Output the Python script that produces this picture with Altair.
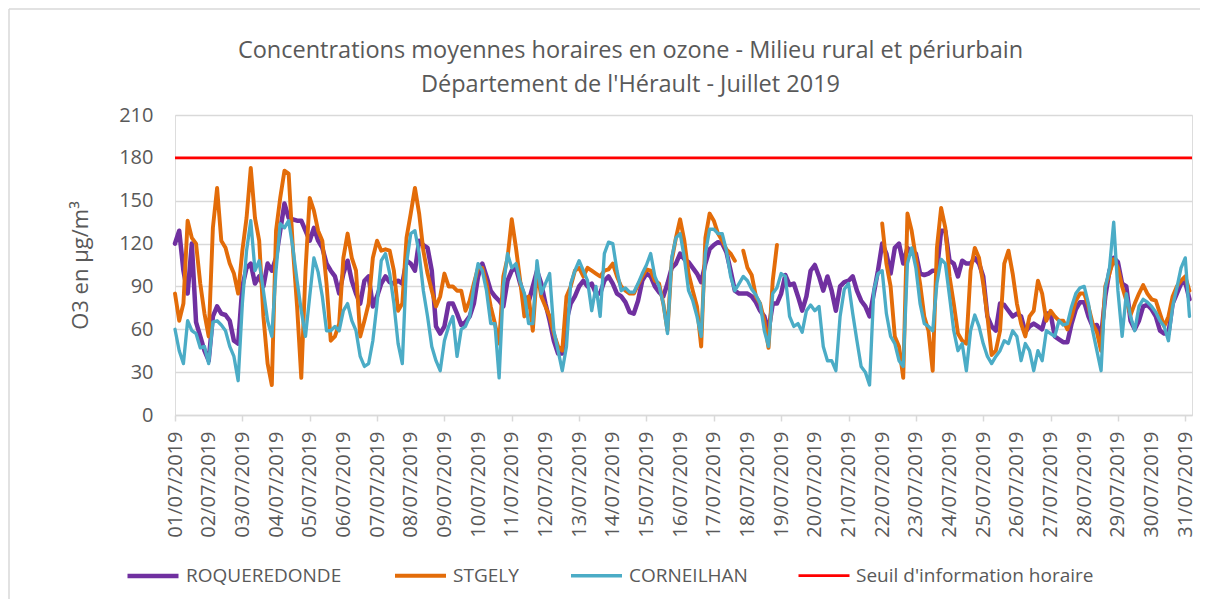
import altair as alt
import pandas as pd

# ---- data (one sample every 3 hours) ----
STEP_HOURS = 3
ROQUEREDONDE = [
    120, 129, 101, 85, 120, 65, 55, 45, 38, 69, 76, 71, 70, 66, 52, 50, 90, 103, 106, 92,
    97, 90, 106, 101, 110, 129, 148, 138, 137, 136, 136, 129, 122, 131, 122,
    117, 106, 101, 97, 85, 99, 108, 94, 85, 78, 94, 97, 76, 83, 92, 97, 93, 92, 94, 92,
    108, 106, 101, 122, 119, 117, 101, 62, 57, 62, 78, 78, 71, 63,
    65, 69, 78, 97, 106, 97, 87, 83, 80, 76, 94, 101, 103, 92, 83, 79, 90, 101, 92, 78,
    66, 52, 43, 43, 66, 78, 83, 90, 94, 90, 92, 85, 85, 94, 97,
    92, 85, 83, 79, 72, 71, 80, 94, 99, 97, 90, 86, 83, 92, 103, 106, 113, 109, 107, 103,
    99, 93, 106, 116, 119, 121, 120, 114, 101, 87, 85, 85, 85, 83,
    79, 73, 69, 59, 78, 78, 85, 98, 91, 92, 83, 73, 83, 101, 105, 97, 87, 97, 87, 73,
    90, 93, 94, 97, 87, 80, 76, 69, 85, 101, 120, 113, 99, 117, 120,
    106, 117, 113, 113, 99, 98, 99, 101, 101, 129, 129, 108, 106, 97, 108, 106, 106, 110, 106, 97,
    69, 62, 59, 78, 77, 73, 69, 71, 69, 58, 62, 64, 62, 60,
    71, 71, 55, 53, 51, 51, 64, 74, 79, 79, 69, 62, 63, 55, 83, 101, 110, 107, 92, 90,
    66, 60, 66, 76, 77, 74, 69, 59, 57, 57, 78, 85, 92, 93, 81,
]
STGELY = [
    85, 66, 78, 136, 124, 120, 92, 71, 55, 131, 159, 122, 117, 106, 99, 85, 115, 138, 173, 138,
    122, 69, 36, 21, 129, 152, 171, 169, 117, 76, 26, 101, 152, 143, 129,
    122, 92, 52, 55, 64, 110, 127, 110, 101, 55, 66, 78, 110, 122, 115, 116, 115, 101, 73, 78,
    124, 141, 159, 141, 115, 99, 87, 76, 83, 99, 90, 90, 87, 87,
    73, 80, 92, 103, 103, 92, 76, 64, 50, 97, 110, 137, 117, 94, 69, 83, 59, 101, 83, 76,
    69, 57, 48, 45, 83, 90, 101, 103, 97, 103, 101, 99, 97, 101, 102,
    106, 97, 90, 87, 85, 85, 91, 97, 102, 101, 94, 92, 78, 59, 108, 124, 137, 122, 99, 87,
    76, 48, 124, 141, 136, 127, 122, 116, 113, 108, None, 115, 103, 98,
    83, 78, 66, 47, 94, 119, None, None, None, None, None, None, None, None, None, None, None, None, None, None,
    None, None, None, None, None, None, None, None, None, None, 134, 106, 90, 55, 48,
    26, 141, 129, 110, 92, 69, 59, 31, 117, 145, 131, 97, 78, 57, 52, 50, 101, 117, 110, 92,
    69, 42, 45, 59, 106, 115, 99, 78, 64, 55, 69, 73, 94, 85,
    66, 73, 69, 66, 66, 60, 69, 80, 85, 85, 76, 64, 58, 45, 90, 99, 109, 103, 90, 80,
    70, 78, 85, 91, 85, 81, 80, 71, 62, 69, 83, 90, 94, 97, 87,
]
CORNEILHAN = [
    60, 45, 36, 66, 59, 57, 47, 48, 36, 65, 66, 63, 59, 48, 41, 24, 78, 115, 136, 101,
    108, 87, 66, 55, 101, 134, 131, 136, 117, 94, 73, 55, 83, 110, 100,
    83, 59, 59, 62, 59, 73, 78, 66, 59, 41, 34, 36, 52, 78, 108, 113, 99, 78, 50, 36,
    106, 127, 129, 113, 87, 69, 48, 38, 31, 52, 62, 69, 41, 60,
    62, 69, 90, 106, 101, 87, 64, 64, 26, 90, 113, 103, 106, 93, 85, 64, 64, 108, 85, 92,
    99, 59, 45, 31, 48, 92, 101, 108, 101, 94, 73, 90, 69, 113, 121,
    120, 101, 87, 89, 86, 86, 92, 99, 105, 113, 97, 90, 78, 57, 110, 124, 127, 110, 87, 80,
    69, 55, 113, 130, 130, 127, 127, 115, 97, 87, 92, 97, 94, 88,
    84, 78, 59, 48, 85, 89, 99, 97, 69, 62, 64, 58, 73, 77, 73, 76, 48, 38, 38, 31,
    69, 88, 92, 71, 52, 34, 30, 21, 87, 99, 101, 71, 55, 50, 38,
    34, 106, 117, 103, 78, 64, 62, 59, 92, 109, 106, 83, 59, 45, 50, 31, 59, 70, 62, 50,
    41, 36, 41, 45, 52, 50, 59, 55, 38, 50, 45, 31, 45, 38,
    59, 57, 55, 66, 63, 64, 76, 85, 89, 90, 78, 59, 45, 31, 89, 103, 135, 87, 55, 85,
    69, 59, 76, 81, 79, 76, 72, 66, 62, 52, 76, 89, 103, 110, 69,
]
SEUIL = 180
SERIES = ["ROQUEREDONDE", "STGELY", "CORNEILHAN"]
SEUIL_NAME = "Seuil d'information horaire"
LEGEND_ITEMS = SERIES + [SEUIL_NAME]
COLORS = ["#7030A0", "#E36C09", "#4BACC6", "#FF0000"]
WIDTHS = [4.5, 2.75, 2.75, 2.5]
Y_TICKS = [0, 30, 60, 90, 120, 150, 180, 210]
DAY_TICKS = list(range(31))
TITLE = ["Concentrations moyennes horaires en ozone - Milieu rural et périurbain",
         "Département de l'Hérault  - Juillet 2019"]
Y_TITLE = "O3 en µg/m³"

# ---- build long table ----
rows = []
for name, values in zip(SERIES, [ROQUEREDONDE, STGELY, CORNEILHAN]):
    seg = 0
    for i, v in enumerate(values):
        if v is None:
            seg += 1
            continue
        rows.append({"serie": name, "day": i * STEP_HOURS / 24.0, "value": v,
                     "seg": f"{name}_{seg}"})
df = pd.DataFrame(rows)
seuil_df = pd.DataFrame({"serie": [SEUIL_NAME], "value": [SEUIL]})

GREY_TXT = "#595959"
GRID = "#D9D9D9"
FONT = "Open Sans"

legend = alt.Legend(
    title=None, orient="none", legendX=-50, legendY=433, direction="horizontal",
    symbolType="stroke", symbolSize=2601, labelFontSize=19, labelFont=FONT,
    labelColor=GREY_TXT, columnPadding=45, labelOffset=5, labelLimit=400,
)
color = alt.Color("serie:N", scale=alt.Scale(domain=LEGEND_ITEMS, range=COLORS), legend=legend)
stroke_w = alt.StrokeWidth("serie:N", scale=alt.Scale(domain=LEGEND_ITEMS, range=WIDTHS), legend=legend)

x_enc = alt.X(
    "day:Q",
    scale=alt.Scale(domain=[0, 30.2], nice=False, zero=False),
    axis=alt.Axis(
        values=DAY_TICKS,
        labelExpr="(datum.value < 9 ? '0' : '') + (datum.value + 1) + '/07/2019'",
        labelAngle=-90, labelFontSize=20, labelFont=FONT, labelColor=GREY_TXT,
        labelPadding=10, tickSize=6, tickColor=GRID, tickWidth=1.5,
        tickOpacity={"condition": {"test": "datum.value % 2 === 0", "value": 1}, "value": 0},
        domainColor=GRID, domainWidth=1.5, grid=False, labelOverlap=False,
    ),
    title=None,
)
y_enc = alt.Y(
    "value:Q",
    scale=alt.Scale(domain=[0, 210], nice=False),
    axis=alt.Axis(
        values=Y_TICKS, labelFontSize=20, labelFont=FONT, labelColor=GREY_TXT,
        labelPadding=22, ticks=False, domain=False, grid=True, gridColor=GRID,
        gridWidth=1.5, titleFontSize=22, titleFont=FONT, titleColor=GREY_TXT,
        titleFontWeight="normal", titlePadding=26,
    ),
    title=Y_TITLE,
)

base = alt.Chart(df).encode(x=x_enc, y=y_enc, color=color, strokeWidth=stroke_w, detail="seg:N")
layers = [
    base.transform_filter(alt.datum.serie == s).mark_line(strokeJoin="round", strokeCap="round")
    for s in SERIES
]
rule = alt.Chart(seuil_df).mark_rule().encode(y=y_enc, color=color, strokeWidth=stroke_w)

# chart-area frame (top and left edges visible in the reference)
frame_top = alt.Chart(seuil_df).mark_rule(color=GRID, strokeWidth=1.5).encode(
    x=alt.value(-166), x2=alt.value(1025), y=alt.value(-106)
)
frame_left = alt.Chart(seuil_df).mark_rule(color=GRID, strokeWidth=1.5).encode(
    x=alt.value(-166), y=alt.value(-106), y2=alt.value(484)
)

chart = alt.layer(frame_top, frame_left, *layers, rule).properties(
    width=1017,
    height=300,
    padding={"left": 167, "top": 107, "right": 8, "bottom": 184},
    autosize=alt.AutoSizeParams(type="none"),
    title=alt.TitleParams(
        TITLE, fontSize=23.5, font=FONT, fontWeight="normal", color=GREY_TXT,
        anchor="middle", frame="group", dx=-53, offset=-88, lineHeight=34,
    ),
).configure_view(stroke=None).configure(font=FONT)

chart.save("out.html", embed_options={"renderer": "svg", "actions": False})
